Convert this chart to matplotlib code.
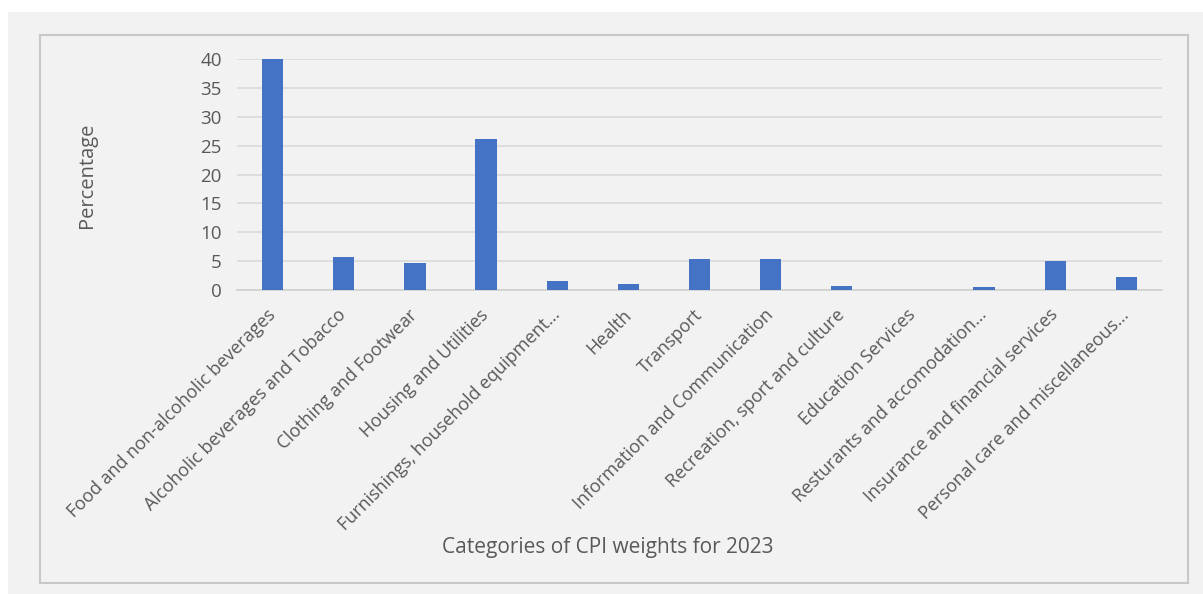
import matplotlib
matplotlib.use("Agg")
import matplotlib.pyplot as plt
from matplotlib.patches import Rectangle

categories = [
    "Food and non-alcoholic beverages",
    "Alcoholic beverages and Tobacco",
    "Clothing and Footwear",
    "Housing and Utilities",
    "Furnishings, household equipment\u2026",
    "Health",
    "Transport",
    "Information and Communication",
    "Recreation, sport and culture",
    "Education Services",
    "Resturants and accomodation\u2026",
    "Insurance and financial services",
    "Personal care and miscellaneous\u2026",
]
values = [40.0, 5.8, 4.7, 26.1, 1.55, 1.0, 5.3, 5.4, 0.75, 0.0, 0.6, 5.0, 2.2]
yticks = [0, 5, 10, 15, 20, 25, 30, 35, 40]

plt.rcParams['font.family'] = ['Open Sans', 'DejaVu Sans']
txt = '#595959'
W, H = 1203, 594
fig = plt.figure(figsize=(W / 100, H / 100), dpi=100, facecolor='#f2f2f2')

# white margins top and left
fig.patches.append(Rectangle((0, 1 - 12 / H), 1, 12 / H, transform=fig.transFigure,
                             facecolor='white', edgecolor='none', zorder=0))
fig.patches.append(Rectangle((0, 0), 8 / W, 1, transform=fig.transFigure,
                             facecolor='white', edgecolor='none', zorder=0))
# chart border
fig.patches.append(Rectangle((40 / W, 1 - 583 / H), (1188 - 40) / W, (583 - 35) / H,
                             transform=fig.transFigure, facecolor='#f2f2f2',
                             edgecolor='#c8c8c8', linewidth=1.5, zorder=0.5))

ax = fig.add_axes([237 / W, 1 - 290 / H, (1162 - 237) / W, (290 - 59) / H])
ax.set_zorder(3)
ax.set_facecolor('none')
x = list(range(len(categories)))
ax.bar(x, values, width=0.3, color='#4472C4', zorder=3)
ax.set_xlim(-0.5, len(categories) - 0.5)
ax.set_ylim(0, 40)
ax.set_yticks(yticks)
ax.set_yticklabels([str(v) for v in yticks])
ax.yaxis.grid(True, color='#d9d9d9', linewidth=1.2, zorder=0)
ax.set_axisbelow(True)
for s in ['top', 'right', 'left']:
    ax.spines[s].set_visible(False)
ax.spines['bottom'].set_color('#d0d0d0')
ax.spines['bottom'].set_linewidth(1.2)
ax.tick_params(axis='y', length=0, pad=11, labelsize=13.5, labelcolor=txt)
ax.tick_params(axis='x', length=0, pad=16, labelsize=13, labelcolor=txt)
ax.set_xticks(x)
ax.set_xticklabels(categories, rotation=45, ha='right', va='center', rotation_mode='anchor')

fig.text(87 / W, 1 - 175 / H, 'Percentage', rotation=90, ha='center', va='center',
         fontsize=14.5, color=txt)
fig.text(608 / W, 1 - 547 / H, 'Categories of CPI weights for 2023', ha='center',
         va='center', fontsize=15, color=txt)

fig.savefig('out.png', dpi=100, facecolor=fig.get_facecolor())
